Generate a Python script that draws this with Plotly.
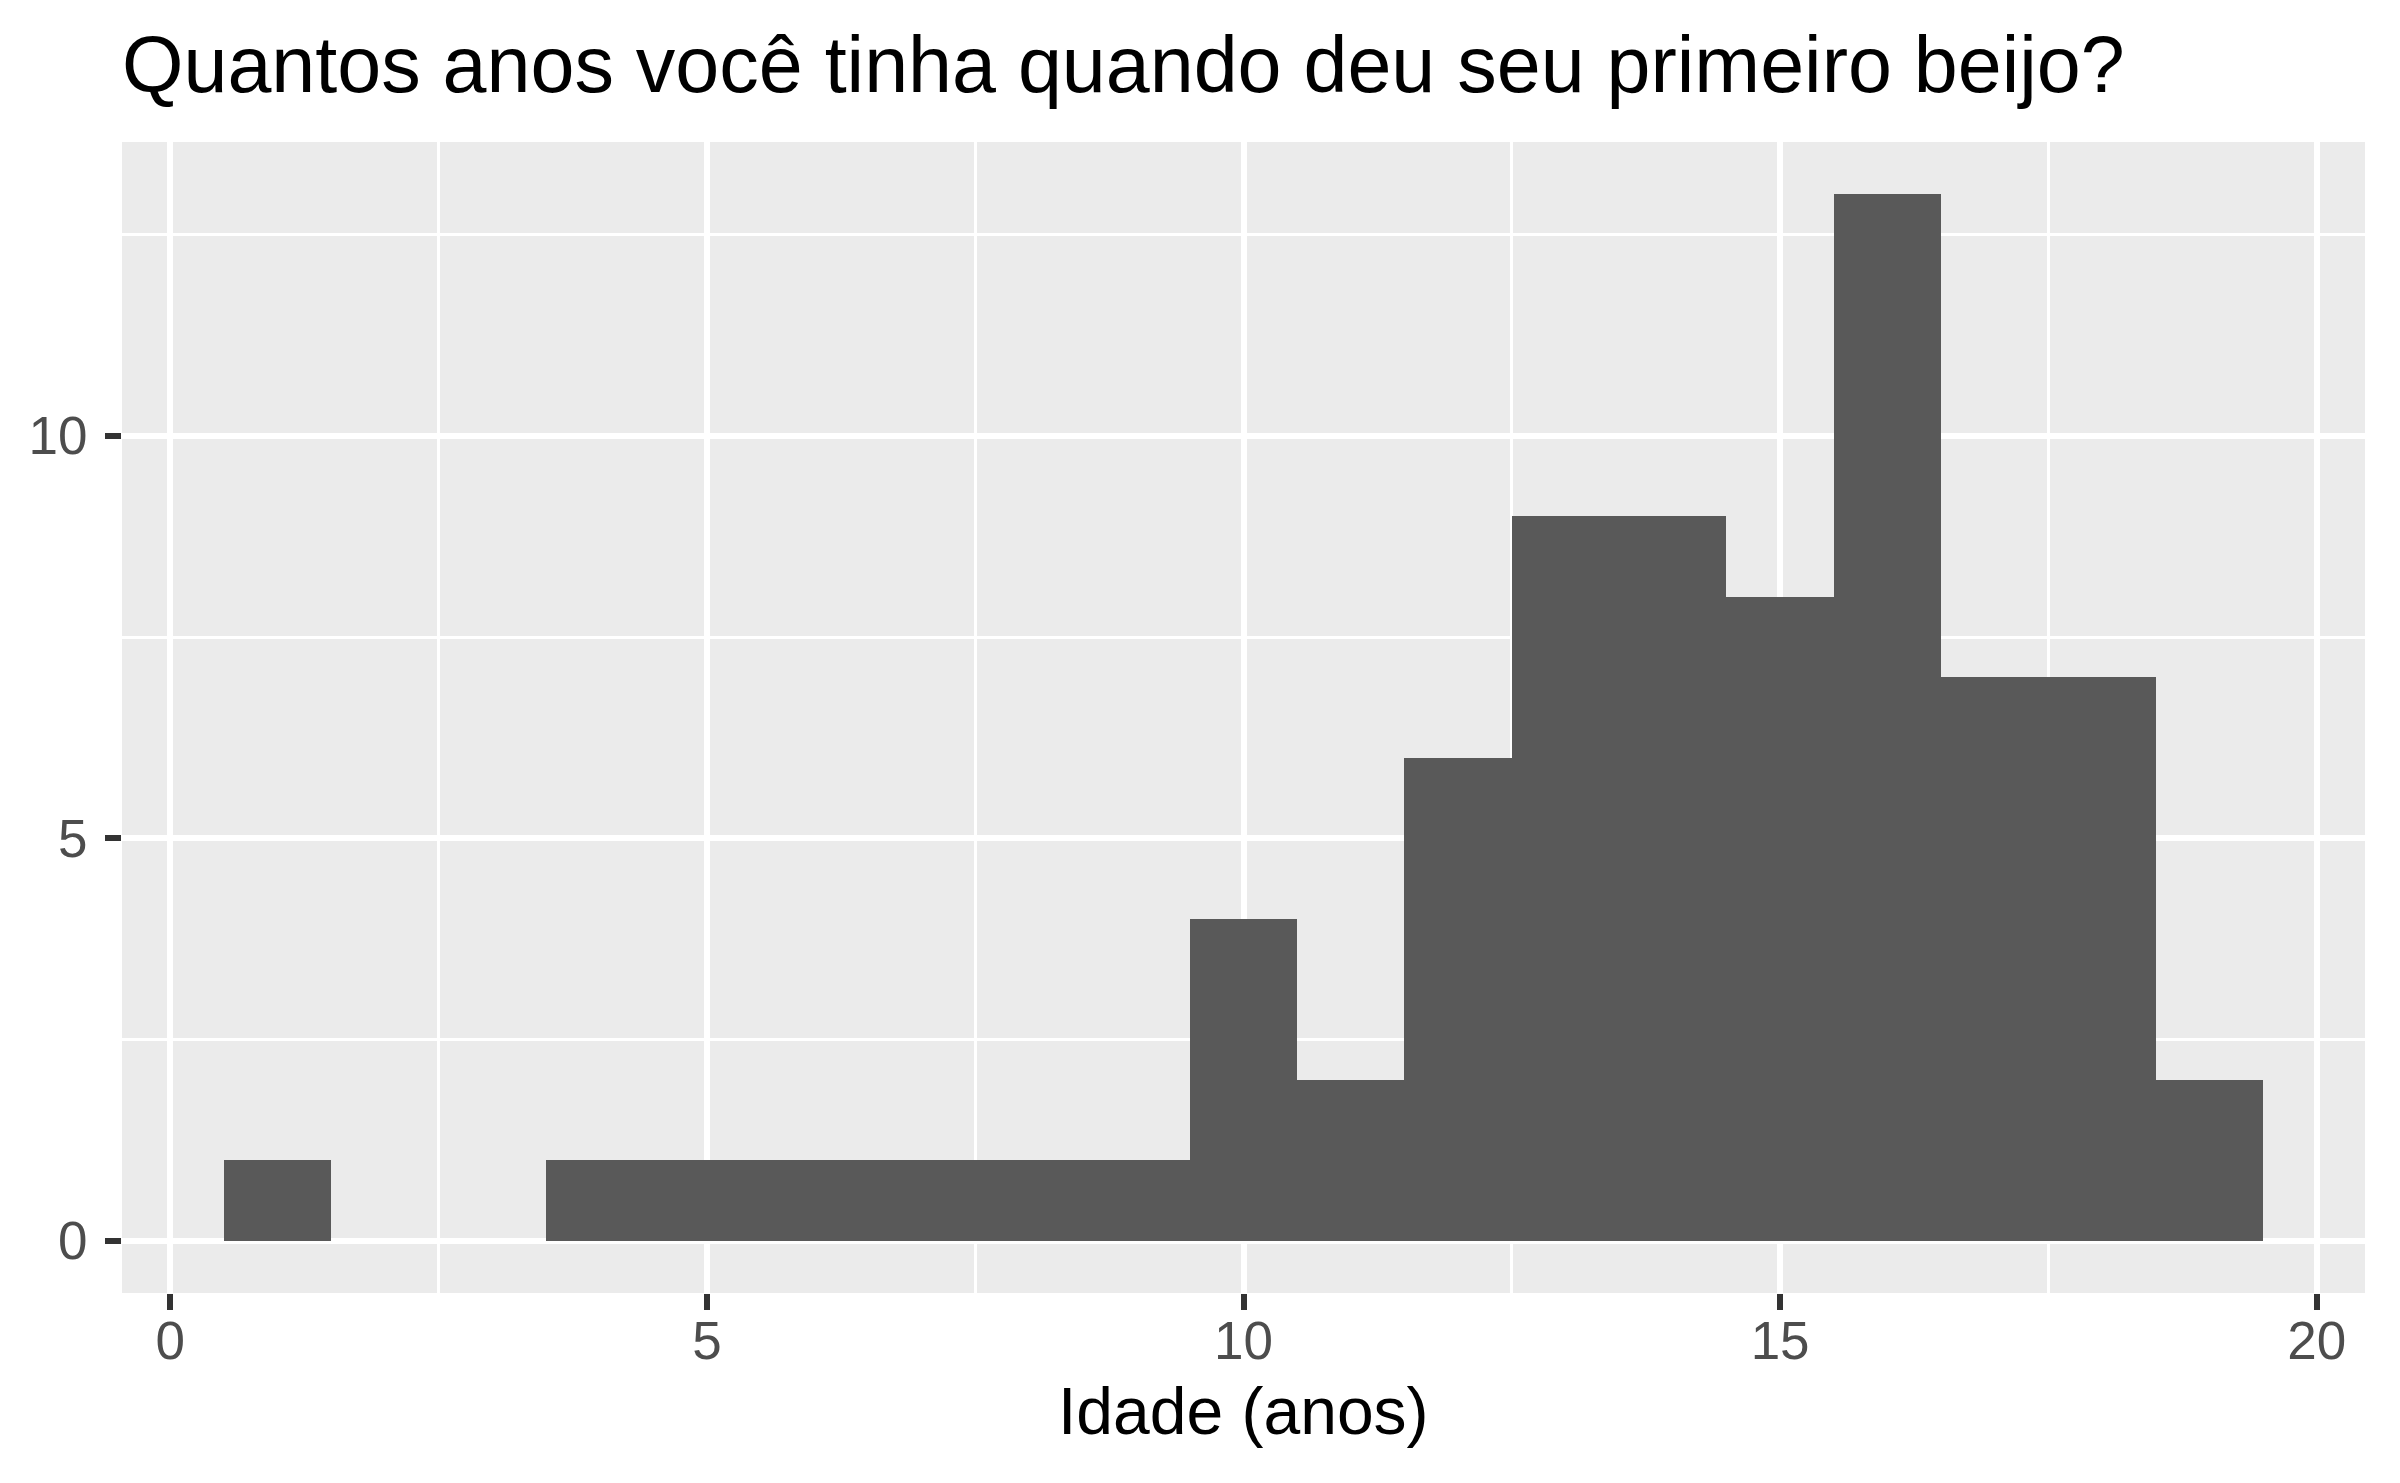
import plotly.graph_objects as go

# Data: age bins (centres, binwidth 1) and counts
idades = [1, 4, 5, 6, 7, 8, 9, 10, 11, 12, 13, 14, 15, 16, 17, 18, 19]
contagens = [1, 1, 1, 1, 1, 1, 1, 4, 2, 6, 9, 9, 8, 13, 7, 7, 2]
x_ticks = [0, 5, 10, 15, 20]
y_ticks = [0, 5, 10]

FONT = "Arial, 'Liberation Sans', sans-serif"

# page body has an 8px margin, so the figure is sized to fit the window
W, H = 2392, 1475

fig = go.Figure()
fig.add_trace(go.Bar(
    x=idades, y=contagens, width=1,
    marker=dict(color="#595959", line=dict(width=0)),
    hoverinfo="skip",
))

fig.update_layout(
    width=W, height=H,
    paper_bgcolor="white", plot_bgcolor="#EBEBEB",
    margin=dict(l=114, r=35, t=134, b=190, autoexpand=False),
    showlegend=False,
    bargap=0,
    font=dict(family=FONT),
    title=dict(
        text="Quantos anos você tinha quando deu seu primeiro beijo?",
        font=dict(family=FONT, size=79, color="black"),
        xref="paper", x=0, xanchor="left",
        yref="container", y=1 - 56 / H, yanchor="middle",
    ),
    annotations=[dict(
        text="Idade (anos)", xref="paper", yref="paper", x=0.5, y=0,
        xanchor="center", yanchor="middle", yshift=-118, showarrow=False,
        font=dict(family=FONT, size=66, color="black"),
    )],
)

fig.update_xaxes(
    range=[-0.45, 20.45], autorange=False,
    tickvals=x_ticks, ticktext=[str(v) for v in x_ticks],
    showgrid=True, gridcolor="white", gridwidth=6,
    minor=dict(dtick=2.5, tick0=0, showgrid=True, gridcolor="white", gridwidth=3, ticks=""),
    zeroline=False, showline=False,
    ticks="outside", ticklen=16, tickwidth=6, tickcolor="#333333",
    tickfont=dict(family=FONT, size=53, color="#4D4D4D"),
    ticklabelstandoff=-15,
    automargin=False,
)
fig.update_yaxes(
    range=[-0.65, 13.65], autorange=False,
    tickvals=y_ticks, ticktext=[str(v) for v in y_ticks],
    showgrid=True, gridcolor="white", gridwidth=6,
    minor=dict(dtick=2.5, tick0=0, showgrid=True, gridcolor="white", gridwidth=3, ticks=""),
    zeroline=False, showline=False,
    ticks="outside", ticklen=16, tickwidth=6, tickcolor="#333333",
    tickfont=dict(family=FONT, size=53, color="#4D4D4D"),
    ticklabelstandoff=7,
    automargin=False,
)

fig.write_html("out.html")
